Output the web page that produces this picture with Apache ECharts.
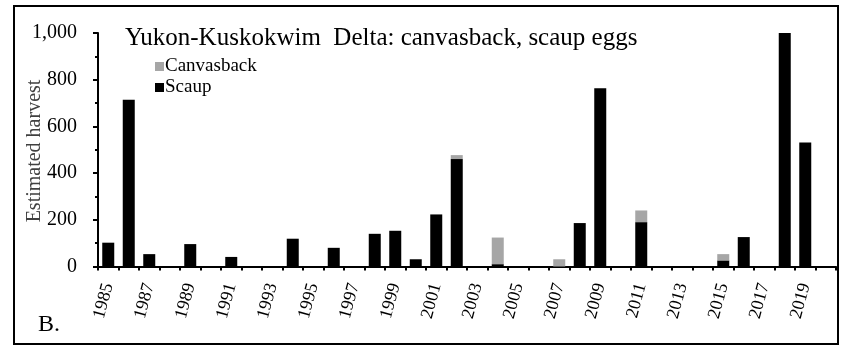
<!DOCTYPE html>
<html><head><meta charset="utf-8">
<script src="https://cdn.jsdelivr.net/npm/echarts@6/dist/echarts.min.js"></script>
<style>html,body{margin:0;padding:0;background:#fff}#c{width:845px;height:352px}</style>
</head><body><div id="c"></div>
<script>
const years = ['1985','1986','1987','1988','1989','1990','1991','1992','1993','1994','1995','1996','1997','1998','1999','2000','2001','2002','2003','2004','2005','2006','2007','2008','2009','2010','2011','2012','2013','2014','2015','2016','2017','2018','2019','2020'];
const scaup = [102,714,53,0,96,0,41,0,0,119,0,80,0,140,153,31,223,460,0,10,0,0,0,186,763,0,190,0,0,0,26,126,0,1000,531,0];
const canvasback = [0,0,0,0,0,0,0,0,0,0,0,0,0,0,0,0,0,17,0,114,0,0,31,0,0,0,50,0,0,0,27,0,0,0,0,0];
const yTicks = [0,200,400,600,800,1000];
const titleText = 'Yukon-Kuskokwim  Delta: canvasback, scaup eggs';
const yName = 'Estimated harvest';
const FONT = '"Liberation Serif", "Times New Roman", serif';

const chart = echarts.init(document.getElementById('c'), null, {renderer:'canvas'});
chart.setOption({
  animation:false,
  backgroundColor:'#fff',
  title:{text:titleText,left:120,top:21,textStyle:{fontFamily:FONT,fontSize:25,fontWeight:'normal',color:'#000'}},
  legend:{left:150,top:52,orient:'vertical',itemWidth:9,itemHeight:9,itemGap:2,
    textStyle:{fontFamily:FONT,fontSize:19,color:'#000',padding:[0,0,0,-4]},
    data:[{name:'Canvasback',icon:'rect'},{name:'Scaup',icon:'rect'}]},
  grid:{left:98,right:9,top:33,bottom:85.5,containLabel:false},
  xAxis:{type:'category',data:years,
    axisLine:{lineStyle:{color:'#000',width:2}},
    axisTick:{show:true,interval:0,length:4,lineStyle:{color:'#000',width:2}},
    axisLabel:{interval:1,rotate:75,margin:17,fontFamily:FONT,fontSize:18,color:'#000'}},
  yAxis:{type:'value',min:0,max:1000,interval:200,
    axisLine:{show:true,lineStyle:{color:'#000',width:2}},
    axisTick:{show:true,length:5,lineStyle:{color:'#000',width:2}},
    minorTick:{show:true,splitNumber:2,length:3,lineStyle:{color:'#000',width:2}},
    splitLine:{show:false},
    axisLabel:{margin:21,fontFamily:FONT,fontSize:20,color:'#000',
      formatter:v=>v.toLocaleString('en-US')}},
  series:[
    {name:'Scaup',type:'bar',stack:'a',data:scaup,barWidth:12,itemStyle:{color:'#000'}},
    {name:'Canvasback',type:'bar',stack:'a',data:canvasback,barWidth:12,itemStyle:{color:'#a6a6a6'}}
  ],
  graphic:[
    {type:'rect',shape:{x:14,y:6,width:824,height:338},style:{fill:null,stroke:'#000',lineWidth:2},silent:true},
    {type:'text',x:35,y:151,rotation:Math.PI/2,silent:true,
      style:{text:yName,font:'20px '+FONT,fill:'#404040',align:'center',verticalAlign:'middle'}},
    {type:'text',left:38,top:313,style:{text:'B.',font:'24px '+FONT,fill:'#000'}}
  ]
});
</script></body></html>
